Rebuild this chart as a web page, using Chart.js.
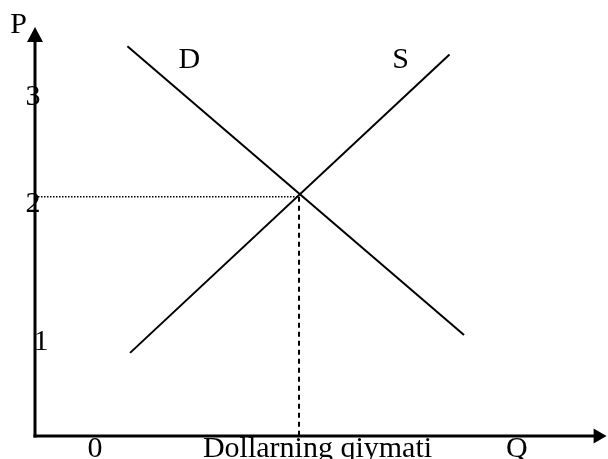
<!DOCTYPE html>
<html>
<head>
<meta charset="utf-8">
<script src="https://cdn.jsdelivr.net/npm/chart.js@4"></script>
<style>
  html, body { margin: 0; padding: 0; background: #fff; }
  #wrap { width: 608px; height: 459px; position: relative; }
</style>
</head>
<body>
<div id="wrap"><canvas id="c"></canvas></div>
<script>
// ---- data ----
const demandQ = [0.70, 3.25];
const demandP = [3.26, 0.845];
const supplyQ = [0.72, 3.14];
const supplyP = [0.695, 3.19];
const eqQ = 2.0;
const eqP = 2.0;
const yTickValues = [0.80, 1.96, 2.85];
const yTickLabels = ['1', '2', '3'];
const xLabelValues = [0.455, 2.14, 3.65];
const xLabels = ['0', 'Dollarning qiymati', 'Q'];
const curveNames = ['D', 'S'];
const curveNameQ = [1.17, 2.77];
const curveNameP = [3.16, 3.16];
const yAxisTitle = 'P';
const xMax = 4.33;
const yMax = 3.42;

function pts(xs, ys) { return xs.map((x, i) => ({ x: x, y: ys[i] })); }

const FONT = '30px "Liberation Serif", "Times New Roman", serif';

const axesPlugin = {
  id: 'econAxes',
  afterDatasetsDraw(chart) {
    const ctx = chart.ctx;
    const xs = chart.scales.x, ys = chart.scales.y;
    const ox = xs.getPixelForValue(0), oy = ys.getPixelForValue(0);
    const tipY = ys.getPixelForValue(yMax);
    const tipX = xs.getPixelForValue(xMax);
    ctx.save();
    ctx.strokeStyle = '#000';
    ctx.fillStyle = '#000';
    ctx.lineWidth = 3;
    ctx.setLineDash([]);
    // y axis
    ctx.beginPath();
    ctx.moveTo(ox, oy + 1.5);
    ctx.lineTo(ox, tipY + 12);
    ctx.stroke();
    ctx.beginPath();
    ctx.moveTo(ox, tipY);
    ctx.lineTo(ox - 8, tipY + 15);
    ctx.lineTo(ox + 8, tipY + 15);
    ctx.closePath();
    ctx.fill();
    // x axis
    ctx.beginPath();
    ctx.moveTo(ox - 1.5, oy);
    ctx.lineTo(tipX - 10, oy);
    ctx.stroke();
    ctx.beginPath();
    ctx.moveTo(tipX, oy);
    ctx.lineTo(tipX - 13, oy - 7.5);
    ctx.lineTo(tipX - 13, oy + 7.5);
    ctx.closePath();
    ctx.fill();

    // texts
    ctx.font = FONT;
    ctx.textBaseline = 'alphabetic';
    // axis title P
    ctx.textAlign = 'right';
    ctx.fillText(yAxisTitle, ox - 8, tipY + 6);
    // y tick labels
    const yOff = [6, -2, -2];
    ctx.textAlign = 'center';
    yTickValues.forEach((v, i) => {
      ctx.fillText(yTickLabels[i], ox + yOff[i], ys.getPixelForValue(v) + 10);
    });
    // x labels
    xLabelValues.forEach((v, i) => {
      ctx.fillText(xLabels[i], xs.getPixelForValue(v), oy + 21);
    });
    // curve names
    curveNames.forEach((n, i) => {
      ctx.fillText(n, xs.getPixelForValue(curveNameQ[i]), ys.getPixelForValue(curveNameP[i]) + 10);
    });
    ctx.restore();
  }
};

new Chart(document.getElementById('c'), {
  type: 'scatter',
  data: {
    datasets: [
      { label: 'D', data: pts(demandQ, demandP), showLine: true, borderColor: '#000', borderWidth: 2, pointRadius: 0, fill: false, clip: false },
      { label: 'S', data: pts(supplyQ, supplyP), showLine: true, borderColor: '#000', borderWidth: 2, pointRadius: 0, fill: false, clip: false },
      { label: 'Pe', data: [{ x: 0, y: eqP }, { x: eqQ, y: eqP }], showLine: true, borderColor: '#000', borderWidth: 1.5, borderDash: [1.5, 1.5], pointRadius: 0, fill: false, clip: false },
      { label: 'Qe', data: [{ x: eqQ, y: eqP }, { x: eqQ, y: 0 }], showLine: true, borderColor: '#000', borderWidth: 2, borderDash: [5, 4], pointRadius: 0, fill: false, clip: false }
    ]
  },
  options: {
    responsive: true,
    maintainAspectRatio: false,
    animation: false,
    events: [],
    layout: { padding: { left: 35, right: 1.4, top: 27, bottom: 23 } },
    plugins: { legend: { display: false }, tooltip: { enabled: false } },
    scales: {
      x: { type: 'linear', min: 0, max: xMax, display: false },
      y: { type: 'linear', min: 0, max: yMax, display: false }
    }
  },
  plugins: [axesPlugin]
});
</script>
</body>
</html>
